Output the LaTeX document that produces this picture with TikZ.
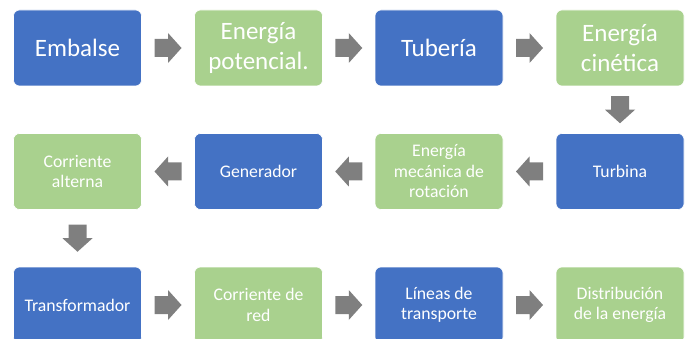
\documentclass[tikz,border=0pt]{standalone}
\usepackage{fontspec}
\setmainfont{Carlito}
\usetikzlibrary{calc}

\definecolor{boxblue}{HTML}{4472C4}
\definecolor{boxgreen}{HTML}{A9D18E}
\definecolor{arrgray}{HTML}{7F7F7F}

% block arrow half way between two nodes, #3 = direction in degrees
\newcommand{\flecha}[3]{%
\fill[arrgray, shift={($(#1)!0.5!(#2)$)}, rotate=#3]
  (-13.5,-9) -- (0,-9) -- (0,-15) -- (13.5,0) -- (0,15) -- (0,9) -- (-13.5,9) -- cycle;}

\begin{document}
\begin{tikzpicture}[x=1pt,y=1pt,
  caja/.style={minimum width=128pt, minimum height=76pt, inner sep=0pt,
    rounded corners=6pt, draw=white, line width=0.6pt, text=white, align=center},
  azul/.style={caja, fill=boxblue},
  verde/.style={caja, fill=boxgreen},
  grande/.style={font=\fontsize{25}{30}\selectfont},
  chica/.style={font=\fontsize{17.7}{20.5}\selectfont}]
\useasboundingbox (0,0) rectangle (688,-339);
%\draw[step=10,gray,very thin] (0,-339) grid (688,0);

% fila 1
\node[azul,grande]  (embalse) at (77.5,-48) {Embalse};
\node[verde,grande] (epot)    at (258.5,-48) {Energía\\potencial.};
\node[azul,grande]  (tuberia) at (439,-48) {Tubería};
\node[verde,grande] (ecin)    at (620,-48) {Energía\\cinética};

% fila 2
\node[azul,chica]  (turbina)   at (620,-171.5) {Turbina};
\node[verde,chica] (emec)      at (439,-171.5) {Energía\\mecánica de\\rotación};
\node[azul,chica]  (generador) at (258.5,-171.5) {Generador};
\node[verde,chica] (calterna)  at (77.5,-171.5) {Corriente\\alterna};

% fila 3
\node[azul,chica]  (transf)  at (77.5,-305) {Transformador};
\node[verde,chica] (cred)    at (258.5,-305) {Corriente de\\red};
\node[azul,chica]  (lineas)  at (439,-305) {Líneas de\\transporte};
\node[verde,chica] (distrib) at (620,-305) {Distribución\\de la energía};

\flecha{embalse}{epot}{0}
\flecha{epot}{tuberia}{0}
\flecha{tuberia}{ecin}{0}
\flecha{ecin.south}{turbina.north}{-90}
\flecha{turbina}{emec}{180}
\flecha{emec}{generador}{180}
\flecha{generador}{calterna}{180}
\flecha{calterna.south}{transf.north}{-90}
\flecha{transf}{cred}{0}
\flecha{cred}{lineas}{0}
\flecha{lineas}{distrib}{0}

\end{tikzpicture}
\end{document}
